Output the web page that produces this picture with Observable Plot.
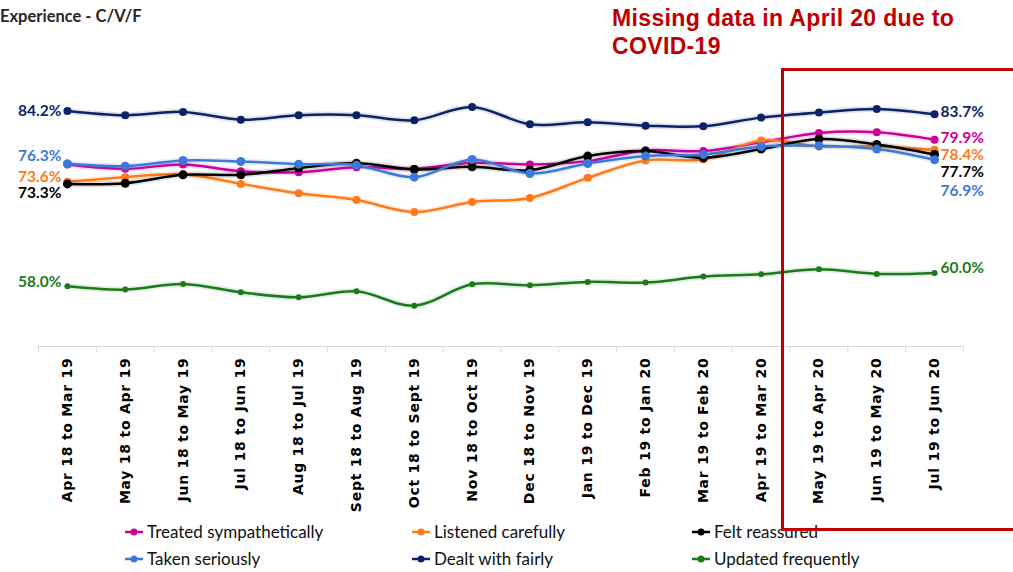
<!DOCTYPE html>
<html>
<head>
<meta charset="utf-8">
<script src="https://cdn.jsdelivr.net/npm/d3@7"></script>
<script src="https://cdn.jsdelivr.net/npm/@observablehq/plot@0.6"></script>
<style>
  html, body { margin: 0; padding: 0; background: #fff; }
  #wrap { position: relative; width: 1013px; height: 572px; overflow: hidden; }
  #chart { position: absolute; left: 0; top: 0; }
  #chart g[aria-label="x-axis tick label"] text { letter-spacing: 0.75px; }
  .title { position: absolute; left: 0px; top: 6px; font: bold 16.5px Lato, sans-serif; color: #262626; }
  .note { position: absolute; left: 612px; top: 4px; font: bold 23px "Liberation Sans", Arial, sans-serif; letter-spacing: 0.35px; color: #c00000; line-height: 28px; }
  .redbox { position: absolute; left: 781px; top: 68px; width: 300px; height: 463px; border: 3px solid #c00000; box-sizing: border-box; pointer-events: none; }
  .leg { position: absolute; font: 17px Lato, sans-serif; color: #111; display: flex; align-items: center; white-space: nowrap; }
  .leg svg { margin-right: 2px; }
</style>
</head>
<body>
<div id="wrap">
  <div id="chart"></div>
  <div class="title">Experience - C/V/F</div>
  <div class="note">Missing data in April 20 due to<br>COVID-19</div>
  <div id="legend"></div>
  <div class="redbox"></div>
</div>
<script>
const periods = ["Apr 18 to Mar 19","May 18 to Apr 19","Jun 18 to May 19","Jul 18 to Jun 19","Aug 18 to Jul 19","Sept 18 to Aug 19","Oct 18 to Sept 19","Nov 18 to Oct 19","Dec 18 to Nov 19","Jan 19 to Dec 19","Feb 19 to Jan 20","Mar 19 to Feb 20","Apr 19 to Mar 20","May 19 to Apr 20","Jun 19 to May 20","Jul 19 to Jun 20"];

const seriesNames = ["Treated sympathetically","Listened carefully","Felt reassured","Taken seriously","Dealt with fairly","Updated frequently"];

const treatedSympathetically = [76.2,75.55,76.2,75.2,75.05,75.8,75.55,76.45,76.2,76.7,78.3,78.2,79.5,80.9,81.0,79.9];
const listenedCarefully      = [73.6,74.3,74.75,73.3,71.9,70.9,69.1,70.6,71.2,74.2,76.8,76.95,79.8,78.9,78.9,78.4];
const feltReassured          = [73.3,73.4,74.65,74.65,75.65,76.4,75.45,75.85,75.35,77.45,78.2,77.2,78.5,80.0,79.2,77.7];
const takenSeriously         = [76.3,75.95,76.8,76.65,76.25,76.1,74.3,76.95,74.85,76.35,77.45,77.7,78.9,79.0,78.5,76.9];
const dealtWithFairly        = [84.2,83.56,84.05,82.9,83.56,83.56,82.8,84.8,82.2,82.5,82.0,81.9,83.2,83.96,84.5,83.7];
const updatedFrequently      = [58.0,57.5,58.35,57.1,56.35,57.25,55.1,58.3,58.15,58.65,58.55,59.45,59.8,60.55,59.85,60.0];

const seriesValues = [treatedSympathetically, listenedCarefully, feltReassured, takenSeriously, dealtWithFairly, updatedFrequently];

// styles (not data)
const colors = ["#cc0099","#ff7a1a","#000000","#3d7ad8","#0c2466","#1c7a1c"];
const dotR = [4,4,4.5,4.5,4,3];
const leftDy = [null,-5,9,-8,0,-4];   // null => label hidden in the reference
const rightDy = [-2,5,18,31,-2,-5];

const rows = [];
seriesNames.forEach((s, k) => seriesValues[k].forEach((v, i) => rows.push({series: s, k, i, v})));

const firstRows = rows.filter(d => d.i === 0 && leftDy[d.k] !== null);
const lastRows = rows.filter(d => d.i === periods.length - 1);

const marks = [
  Plot.ruleY([49], {stroke: "#d9d9d9", strokeWidth: 1}),
  Plot.ruleX(d3.range(periods.length + 1).map(i => i - 0.5), {y1: 49, y2: 48.1, stroke: "#d9d9d9"}),
  Plot.axisX({
    ticks: d3.range(periods.length),
    tickFormat: i => periods[i],
    tickRotate: -90,
    tickSize: 0,
    tickPadding: 11,
    fontSize: 14,
    fontWeight: "bold",
    fontFamily: "DejaVu Sans, Verdana, sans-serif",
    fill: "#000",
    label: null
  })
];

seriesNames.forEach((s, k) => {
  const data = rows.filter(d => d.k === k);
  marks.push(Plot.line(data, {x: "i", y: "v", stroke: colors[k], strokeWidth: 6, strokeOpacity: 0.12, curve: "catmull-rom"}));
  marks.push(Plot.line(data, {x: "i", y: "v", stroke: colors[k], strokeWidth: 2.5, curve: "catmull-rom"}));
  marks.push(Plot.dot(data, {x: "i", y: "v", r: dotR[k], fill: colors[k], stroke: null}));
});

seriesNames.forEach((s, k) => {
  if (leftDy[k] !== null) {
    marks.push(Plot.text(firstRows.filter(d => d.k === k), {x: "i", y: "v", text: d => d.v.toFixed(1) + "%", textAnchor: "end", dx: -6, dy: leftDy[k], fill: colors[k], fontWeight: "bold", fontSize: 15.5, fontFamily: "Lato, sans-serif"}));
  }
  marks.push(Plot.text(lastRows.filter(d => d.k === k), {x: "i", y: "v", text: d => d.v.toFixed(1) + "%", textAnchor: "start", dx: 6, dy: rightDy[k], fill: colors[k], fontWeight: "bold", fontSize: 15.5, fontFamily: "Lato, sans-serif"}));
});

const chart = Plot.plot({
  width: 1013,
  height: 572,
  marginLeft: 38,
  marginRight: 50,
  marginTop: 85,
  marginBottom: 226,
  x: {type: "linear", domain: [-0.5, periods.length - 0.5], axis: null},
  y: {domain: [49, 88], axis: null},
  style: {background: "transparent", overflow: "visible"},
  marks
});
document.getElementById("chart").appendChild(chart);

// legend
const legendPos = [[123,521],[410,521],[690,521],[123,548],[410,548],[690,548]];
const legend = document.getElementById("legend");
seriesNames.forEach((s, k) => {
  const el = document.createElement("div");
  el.className = "leg";
  el.style.left = legendPos[k][0] + "px";
  el.style.top = legendPos[k][1] + "px";
  el.innerHTML = `<svg width="22" height="14"><line x1="2" x2="20" y1="7" y2="7" stroke="${colors[k]}" stroke-width="2.5"/><circle cx="11" cy="7" r="3.5" fill="${colors[k]}"/></svg>${s}`;
  legend.appendChild(el);
});
</script>
</body>
</html>
